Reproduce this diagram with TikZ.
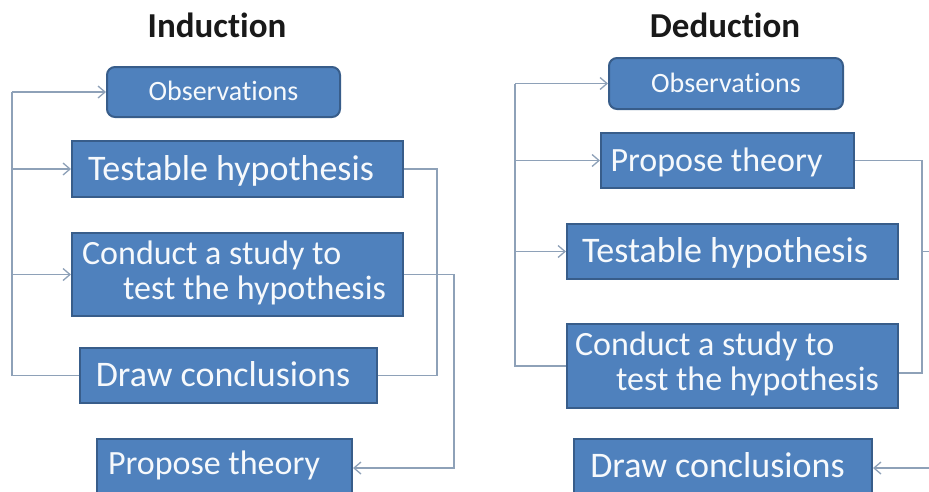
\documentclass[tikz,border=0pt]{standalone}
\usepackage{fontspec}
\setmainfont{Carlito}[Ligatures=NoCommon]
\usetikzlibrary{arrows.meta}
\definecolor{boxfill}{HTML}{4F81BD}
\definecolor{boxline}{HTML}{385D8A}
\definecolor{wire}{HTML}{8EA1B8}
\definecolor{boxtext}{HTML}{F6F9FC}
% move the visible text left by #1 without changing its width
\newcommand\shiftl[2]{\kern-#1\relax#2\kern#1\relax}
\begin{document}
\begin{tikzpicture}[x=1pt,y=-1pt,
  stage/.style={draw=boxline, line width=2pt, fill=boxfill, text=boxtext, inner sep=0pt},
  small/.style={font=\fontsize{28}{33}\selectfont, text height=17.5pt, text depth=0pt, rounded corners=8pt},
  big/.style={font=\fontsize{36}{43}\selectfont, text height=22.7pt, text depth=0pt},
  mid/.style={font=\fontsize{34}{41}\selectfont, text height=21.5pt, text depth=0pt},
  twoline/.style={font=\fontsize{34}{35}\selectfont},
  title/.style={font=\fontsize{35}{42}\selectfont\bfseries, anchor=base, text=black!90},
  wireline/.style={draw=wire, line width=1.3pt},
  feed/.style={wireline, -{Straight Barb[length=7pt,width=12pt]}},
]
\clip (0,0) rectangle (929,491);

% ---------------- Induction ----------------
\node[title] (itl) at (217,37) {Induction};
\node[stage, small, minimum width=233pt, minimum height=50pt] (iobs) at (223.5,92) {Observations};
\node[stage, big, minimum width=331pt, minimum height=56pt] (ith) at (237.5,169) {\shiftl{6.5pt}{Testable hypothesis}};
\node[stage, twoline, minimum width=331pt, minimum height=83pt] (ics) at (237.5,274.5)
  {\shiftl{3.5pt}{\begin{tabular}{@{}l@{}}Conduct a study to\\\hspace*{41pt}test the hypothesis\end{tabular}}};
\node[stage, big, minimum width=297pt, minimum height=55pt] (idc) at (228.5,375.5) {\shiftl{5.5pt}{Draw conclusions}};
\node[stage, mid, text depth=9pt, minimum width=255pt, minimum height=58pt] (ipt) at (224.5,468) {\shiftl{10.5pt}{Propose theory}};

\coordinate (ibus) at (12,92);
\coordinate (ir1) at (437,0);
\coordinate (ir2) at (454,0);
\draw[wireline] (idc.west) -| (ibus);
\draw[feed] (ibus) -- (iobs.west);
\draw[feed] (ibus |- ith.west) -- (ith.west);
\draw[feed] (ibus |- ics.west) -- (ics.west);
\draw[wireline] (ith.east) -| (ir1 |- idc.east) -- (idc.east);
\draw[feed] (ics.east) -| (ir2 |- ipt.east) -- (ipt.east);

% ---------------- Deduction ----------------
\node[title] (dtl) at (725,37) {Deduction};
\node[stage, small, minimum width=234pt, minimum height=51pt] (dobs) at (726,83.5) {Observations};
\node[stage, mid, minimum width=253pt, minimum height=55pt] (dpt) at (727.5,160.5) {\shiftl{11pt}{Propose theory}};
\node[stage, big, minimum width=331pt, minimum height=55pt] (dth) at (732.5,251.5) {\shiftl{7.5pt}{Testable hypothesis}};
\node[stage, twoline, minimum width=331pt, minimum height=84pt] (dcs) at (732.5,366)
  {\shiftl{5.5pt}{\begin{tabular}{@{}l@{}}Conduct a study to\\\hspace*{41pt}test the hypothesis\end{tabular}}};
\node[stage, big, text depth=4.7pt, minimum width=298pt, minimum height=58pt] (ddc) at (723,468) {\shiftl{5.5pt}{Draw conclusions}};

\coordinate (dbus) at (515,83.5);
\coordinate (dr1) at (922,0);
\coordinate (dcsr) at ([yshift=-7pt]dcs.east);
\coordinate (dout1) at (945,251.5);
\coordinate (dout2) at (945,468);
\draw[wireline] (dcs.west) -| (dbus);
\draw[feed] (dbus) -- (dobs.west);
\draw[feed] (dbus |- dpt.west) -- (dpt.west);
\draw[feed] (dbus |- dth.west) -- (dth.west);
\draw[wireline] (dpt.east) -| (dcsr -| dr1) -- (dcsr);
\draw[wireline] (dr1 |- dth.east) -- (dout1);
\draw[feed] (dout2) -- (ddc.east);
\end{tikzpicture}
\end{document}
